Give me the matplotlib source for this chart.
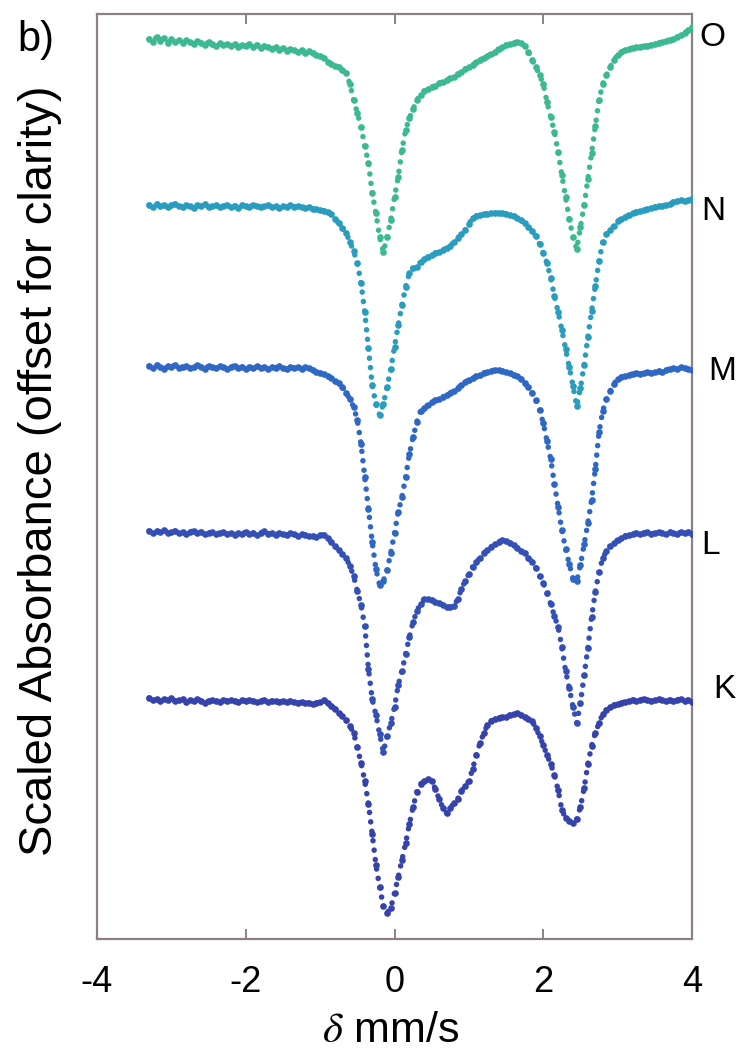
import matplotlib
matplotlib.use("Agg")
import matplotlib.pyplot as plt
import matplotlib.transforms as mtransforms
import numpy as np

plt.rcParams['font.family'] = ['Liberation Sans', 'DejaVu Sans']
plt.rcParams['mathtext.fontset'] = 'stix'
plt.rcParams['axes.unicode_minus'] = False

# Doppler velocity channels (mm/s)
velocity = np.linspace(-3.30, 4.00, 147)

# Scaled absorbance values (offset for clarity)
spec_K = [
    2.41, 2.39, 2.40, 2.38, 2.40, 2.39, 2.41, 2.38, 2.39, 2.40,
    2.37, 2.39, 2.38, 2.40, 2.38, 2.36, 2.38, 2.39, 2.38, 2.37,
    2.39, 2.38, 2.39, 2.38, 2.37, 2.39, 2.38, 2.39, 2.38, 2.37,
    2.38, 2.39, 2.37, 2.38, 2.38, 2.37, 2.38, 2.37, 2.38, 2.37,
    2.36, 2.37, 2.36, 2.36, 2.35, 2.36, 2.37, 2.39, 2.36, 2.33,
    2.30, 2.26, 2.23, 2.19, 2.13, 2.06, 1.92, 1.76, 1.58, 1.35,
    1.05, 0.74, 0.52, 0.33, 0.26, 0.31, 0.46, 0.62, 0.79, 0.96,
    1.15, 1.32, 1.47, 1.55, 1.58, 1.60, 1.58, 1.50, 1.40, 1.31,
    1.26, 1.31, 1.36, 1.40, 1.48, 1.53, 1.58, 1.70, 1.84, 1.96,
    2.06, 2.14, 2.18, 2.20, 2.21, 2.22, 2.22, 2.24, 2.25, 2.26,
    2.24, 2.22, 2.20, 2.18, 2.11, 2.03, 1.94, 1.84, 1.75, 1.64,
    1.49, 1.29, 1.21, 1.18, 1.16, 1.20, 1.32, 1.51, 1.75, 1.93,
    2.06, 2.16, 2.25, 2.29, 2.32, 2.34, 2.35, 2.36, 2.37, 2.38,
    2.39, 2.38, 2.39, 2.40, 2.39, 2.38, 2.39, 2.40, 2.39, 2.38,
    2.39, 2.38, 2.39, 2.40, 2.38, 2.39, 2.37,
]
spec_L = [
    4.08, 4.06, 4.08, 4.07, 4.09, 4.06, 4.07, 4.08, 4.06, 4.07,
    4.05, 4.07, 4.08, 4.06, 4.07, 4.05, 4.06, 4.07, 4.05, 4.06,
    4.07, 4.05, 4.06, 4.04, 4.06, 4.05, 4.07, 4.05, 4.06, 4.04,
    4.06, 4.08, 4.05, 4.06, 4.04, 4.06, 4.05, 4.04, 4.06, 4.05,
    4.03, 4.05, 4.04, 4.03, 4.03, 4.02, 4.04, 4.04, 4.01, 3.97,
    3.93, 3.89, 3.85, 3.81, 3.73, 3.63, 3.48, 3.34, 3.13, 2.70,
    2.40, 2.24, 2.05, 1.87, 2.03, 2.16, 2.32, 2.54, 2.68, 2.85,
    3.02, 3.17, 3.28, 3.35, 3.40, 3.40, 3.39, 3.37, 3.36, 3.34,
    3.32, 3.32, 3.33, 3.40, 3.50, 3.58, 3.65, 3.72, 3.77, 3.81,
    3.86, 3.89, 3.92, 3.95, 3.97, 3.99, 3.98, 3.96, 3.94, 3.91,
    3.88, 3.86, 3.81, 3.77, 3.71, 3.63, 3.56, 3.46, 3.35, 3.23,
    3.12, 2.92, 2.68, 2.51, 2.32, 2.16, 2.36, 2.64, 2.91, 3.22,
    3.47, 3.67, 3.81, 3.88, 3.93, 3.96, 3.99, 4.01, 4.03, 4.04,
    4.05, 4.06, 4.05, 4.06, 4.07, 4.05, 4.06, 4.07, 4.06, 4.05,
    4.07, 4.06, 4.05, 4.07, 4.06, 4.07, 4.05,
]
spec_M = [
    5.73, 5.71, 5.74, 5.72, 5.70, 5.73, 5.72, 5.74, 5.71, 5.72,
    5.73, 5.71, 5.72, 5.74, 5.72, 5.70, 5.73, 5.72, 5.71, 5.73,
    5.72, 5.70, 5.72, 5.73, 5.71, 5.72, 5.70, 5.72, 5.71, 5.73,
    5.71, 5.72, 5.70, 5.72, 5.71, 5.73, 5.71, 5.70, 5.72, 5.71,
    5.72, 5.70, 5.72, 5.71, 5.69, 5.67, 5.66, 5.65, 5.63, 5.61,
    5.58, 5.56, 5.52, 5.46, 5.40, 5.32, 5.19, 4.95, 4.62, 4.30,
    3.97, 3.70, 3.54, 3.58, 3.69, 3.86, 4.06, 4.27, 4.42, 4.62,
    4.85, 5.02, 5.17, 5.28, 5.31, 5.34, 5.37, 5.39, 5.40, 5.42,
    5.44, 5.46, 5.48, 5.51, 5.54, 5.57, 5.59, 5.61, 5.63, 5.64,
    5.66, 5.67, 5.68, 5.69, 5.69, 5.68, 5.67, 5.66, 5.64, 5.63,
    5.60, 5.56, 5.52, 5.46, 5.39, 5.29, 5.16, 4.98, 4.80, 4.55,
    4.32, 4.09, 3.90, 3.75, 3.60, 3.58, 3.74, 3.95, 4.16, 4.39,
    4.70, 5.07, 5.28, 5.40, 5.48, 5.55, 5.60, 5.62, 5.63, 5.64,
    5.65, 5.66, 5.65, 5.66, 5.67, 5.66, 5.67, 5.68, 5.67, 5.69,
    5.70, 5.71, 5.70, 5.72, 5.71, 5.70, 5.69,
]
spec_N = [
    7.34, 7.32, 7.35, 7.33, 7.34, 7.32, 7.34, 7.35, 7.33, 7.32,
    7.34, 7.33, 7.31, 7.34, 7.33, 7.35, 7.32, 7.33, 7.34, 7.32,
    7.33, 7.34, 7.32, 7.33, 7.31, 7.34, 7.33, 7.32, 7.34, 7.33,
    7.32, 7.33, 7.34, 7.32, 7.33, 7.31, 7.33, 7.32, 7.34, 7.32,
    7.33, 7.32, 7.31, 7.32, 7.30, 7.30, 7.29, 7.28, 7.27, 7.25,
    7.20, 7.16, 7.11, 7.06, 6.97, 6.88, 6.76, 6.56, 6.27, 5.91,
    5.54, 5.35, 5.24, 5.35, 5.52, 5.70, 5.92, 6.14, 6.34, 6.52,
    6.66, 6.71, 6.72, 6.77, 6.80, 6.82, 6.84, 6.86, 6.87, 6.89,
    6.91, 6.93, 6.97, 7.01, 7.05, 7.09, 7.15, 7.21, 7.23, 7.24,
    7.25, 7.25, 7.26, 7.26, 7.26, 7.26, 7.25, 7.24, 7.23, 7.21,
    7.19, 7.16, 7.12, 7.08, 7.03, 6.95, 6.86, 6.76, 6.61, 6.43,
    6.27, 6.09, 5.90, 5.72, 5.53, 5.33, 5.51, 5.74, 6.02, 6.28,
    6.53, 6.78, 6.97, 7.05, 7.09, 7.13, 7.18, 7.20, 7.22, 7.24,
    7.26, 7.27, 7.28, 7.29, 7.30, 7.31, 7.32, 7.33, 7.33, 7.34,
    7.35, 7.37, 7.38, 7.39, 7.38, 7.39, 7.40,
]
spec_O = [
    9.00, 8.97, 9.02, 8.98, 9.01, 8.96, 9.00, 8.97, 8.99, 8.96,
    8.99, 8.97, 8.95, 8.98, 8.96, 8.94, 8.97, 8.95, 8.93, 8.96,
    8.94, 8.95, 8.93, 8.95, 8.92, 8.94, 8.93, 8.95, 8.92, 8.94,
    8.91, 8.93, 8.92, 8.90, 8.92, 8.89, 8.91, 8.88, 8.90, 8.89,
    8.87, 8.89, 8.86, 8.88, 8.86, 8.84, 8.83, 8.81, 8.77, 8.75,
    8.73, 8.72, 8.69, 8.66, 8.55, 8.39, 8.26, 8.12, 7.93, 7.76,
    7.46, 7.26, 7.02, 6.87, 7.02, 7.19, 7.42, 7.62, 7.89, 8.09,
    8.21, 8.30, 8.39, 8.44, 8.48, 8.50, 8.52, 8.53, 8.56, 8.57,
    8.59, 8.61, 8.62, 8.65, 8.67, 8.70, 8.72, 8.74, 8.77, 8.79,
    8.81, 8.83, 8.85, 8.87, 8.90, 8.92, 8.94, 8.95, 8.96, 8.97,
    8.96, 8.93, 8.87, 8.79, 8.72, 8.64, 8.55, 8.37, 8.22, 8.07,
    7.87, 7.64, 7.42, 7.20, 7.02, 6.90, 7.12, 7.34, 7.60, 7.86,
    8.13, 8.39, 8.55, 8.64, 8.72, 8.79, 8.84, 8.87, 8.89, 8.90,
    8.91, 8.92, 8.92, 8.93, 8.93, 8.94, 8.95, 8.96, 8.97, 8.98,
    8.99, 9.00, 9.02, 9.04, 9.06, 9.09, 9.12,
]

sample_names = ["K", "L", "M", "N", "O"]
spectra = [spec_K, spec_L, spec_M, spec_N, spec_O]
colors = ["#3543ab", "#3450b6", "#2f68c4", "#2a9cbd", "#3cb992"]
# label anchors: (axes-fraction x, data y)
label_pos = [(1.036, 2.49), (1.016, 3.94), (1.028, 5.67), (1.016, 7.27), (1.012, 9.02)]

fig = plt.figure(figsize=(7.43, 10.51), dpi=100)
ax = fig.add_axes([97 / 743, (1051 - 939) / 1051, 595 / 743, 925 / 1051])

for name, spec, col in zip(sample_names, spectra, colors):
    ax.plot(velocity, spec, linestyle=(0, (0.01, 1.7)), dash_capstyle='round',
            lw=4.0, color=col, zorder=2)
    ax.plot(velocity, spec, 'o', ms=4.8, mew=0, color=col, zorder=3)

trans = mtransforms.blended_transform_factory(ax.transAxes, ax.transData)
for name, (lx, ly) in zip(sample_names, label_pos):
    ax.text(lx, ly, name, transform=trans, ha='left', va='center',
            fontsize=24, color='black', clip_on=False)

ax.set_xlim(-4, 4)
ax.set_ylim(0, 9.25)
ax.set_xticks([-4, -2, 0, 2, 4])
ax.set_yticks([])
spine_col = "#8c8080"
for s in ax.spines.values():
    s.set_color(spine_col)
    s.set_linewidth(1.6)
ax.tick_params(axis='x', direction='in', top=True, bottom=True, length=7,
               width=1.4, color=spine_col, labelsize=26, pad=19, labelcolor='black')

ax.set_xlabel(r'$\delta$ mm/s', fontsize=31, va='center')
ax.xaxis.set_label_coords(0.494, -0.100)
ax.set_ylabel('Scaled Absorbance (offset for clarity)', fontsize=34, va='center')
ax.yaxis.set_label_coords(-0.095, 0.506)

fig.text(36 / 743, 1 - 40 / 1051, 'b)', fontsize=30, ha='center', va='center')

fig.savefig('out.png', dpi=100)
